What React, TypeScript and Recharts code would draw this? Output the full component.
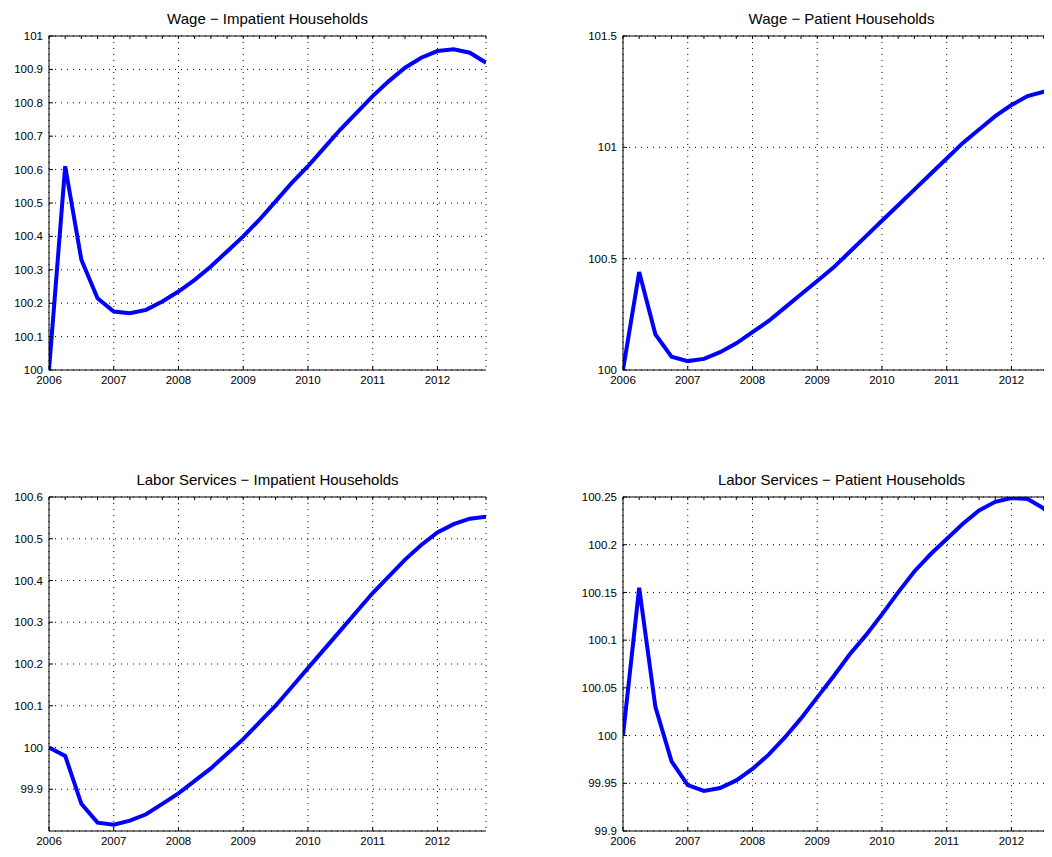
import { LineChart, Line, XAxis, YAxis, CartesianGrid } from "recharts";

const quarters = [
  2006, 2006.25, 2006.5, 2006.75, 2007, 2007.25, 2007.5, 2007.75,
  2008, 2008.25, 2008.5, 2008.75, 2009, 2009.25, 2009.5, 2009.75,
  2010, 2010.25, 2010.5, 2010.75, 2011, 2011.25, 2011.5, 2011.75,
  2012, 2012.25, 2012.5, 2012.75,
];
const yearTicks = [2006, 2007, 2008, 2009, 2010, 2011, 2012];

const wageImpatient = [
  100, 100.61, 100.33, 100.215, 100.175, 100.17, 100.18, 100.205,
  100.235, 100.27, 100.31, 100.355, 100.4, 100.45, 100.505, 100.56,
  100.61, 100.665, 100.72, 100.77, 100.82, 100.865, 100.905, 100.935,
  100.955, 100.96, 100.95, 100.92,
];
const wagePatient = [
  100, 100.44, 100.16, 100.06, 100.04, 100.05, 100.08, 100.12,
  100.17, 100.22, 100.28, 100.34, 100.4, 100.46, 100.53, 100.6,
  100.67, 100.74, 100.81, 100.88, 100.95, 101.02, 101.08, 101.14,
  101.19, 101.23, 101.25, 101.26,
];
const laborImpatient = [
  100, 99.98, 99.865, 99.82, 99.815, 99.825, 99.84, 99.865,
  99.89, 99.92, 99.95, 99.985, 100.02, 100.06, 100.1, 100.145,
  100.19, 100.235, 100.28, 100.325, 100.37, 100.41, 100.45, 100.485,
  100.515, 100.535, 100.548, 100.553,
];
const laborPatient = [
  100, 100.155, 100.03, 99.973, 99.948, 99.942, 99.945, 99.953,
  99.965, 99.98, 99.998, 100.018, 100.04, 100.062, 100.085, 100.105,
  100.127, 100.15, 100.172, 100.19, 100.206, 100.222, 100.236, 100.245,
  100.249, 100.248, 100.238, 100.222,
];

const panels = [
  { title: "Wage \u2212 Impatient Households", values: wageImpatient, domain: [100, 101], yTicks: [100, 100.1, 100.2, 100.3, 100.4, 100.5, 100.6, 100.7, 100.8, 100.9, 101], left: -8, top: -8 },
  { title: "Wage \u2212 Patient Households", values: wagePatient, domain: [100, 101.5], yTicks: [100, 100.5, 101, 101.5], left: 566, top: -8 },
  { title: "Labor Services \u2212 Impatient Households", values: laborImpatient, domain: [99.8, 100.6], yTicks: [99.9, 100, 100.1, 100.2, 100.3, 100.4, 100.5, 100.6], left: -8, top: 453 },
  { title: "Labor Services \u2212 Patient Households", values: laborPatient, domain: [99.9, 100.25], yTicks: [99.9, 99.95, 100, 100.05, 100.1, 100.15, 100.2, 100.25], left: 566, top: 453 },
];

const FONT = "'Liberation Sans', Arial, sans-serif";
const PLOT_W = 437;
const Y_W = 49;

function Panel({ p }: { p: (typeof panels)[number] }) {
  const data = quarters.map((q, i) => ({ q, v: p.values[i] }));
  const w = Y_W + PLOT_W + 14;
  return (
    <div style={{ position: "absolute", left: p.left, top: p.top, width: w, height: 390 }}>
      <div style={{ position: "absolute", left: Y_W, width: PLOT_W, top: 10, textAlign: "center", fontFamily: FONT, fontSize: 15, color: "#000" }}>
        {p.title}
      </div>
      <LineChart width={w} height={390} data={data} margin={{ top: 16, right: 14, left: 0, bottom: 0 }}>
        <CartesianGrid xAxisId="b" yAxisId="l" stroke="#000" strokeDasharray="1 5" strokeWidth={1} />
        <XAxis
          xAxisId="b"
          type="number"
          dataKey="q"
          domain={[2006, 2012.75]}
          ticks={yearTicks}
          allowDataOverflow
          height={20}
          tickSize={-4}
          tick={{ fontSize: 11.5, fill: "#000", fontFamily: FONT, dy: 8 }}
          stroke="#000"
        />
        <XAxis
          xAxisId="t"
          orientation="top"
          type="number"
          dataKey="q"
          domain={[2006, 2012.75]}
          ticks={quarters}
          height={20}
          tickSize={-3}
          tickFormatter={() => ""}
          stroke="#000"
        />
        <YAxis
          yAxisId="l"
          domain={p.domain}
          ticks={p.yTicks}
          allowDataOverflow
          width={Y_W}
          tickSize={-4}
          tick={{ fontSize: 11.5, fill: "#000", fontFamily: FONT, dx: -8 }}
          tickFormatter={(v: number) => String(Math.round(v * 100) / 100)}
          stroke="#000"
        />
        <YAxis
          yAxisId="r"
          orientation="right"
          domain={p.domain}
          ticks={p.yTicks}
          width={0}
          tickSize={-4}
          tickFormatter={() => ""}
          stroke="#000"
        />
        <Line
          xAxisId="b"
          yAxisId="l"
          dataKey="v"
          type="linear"
          stroke="#0000ff"
          strokeWidth={4}
          dot={false}
          isAnimationActive={false}
        />
      </LineChart>
    </div>
  );
}

export default function App() {
  return (
    <div style={{ position: "relative", width: 1044, height: 849, overflow: "hidden", background: "#fff" }}>
      {panels.map((p) => (
        <Panel key={p.title} p={p} />
      ))}
    </div>
  );
}
